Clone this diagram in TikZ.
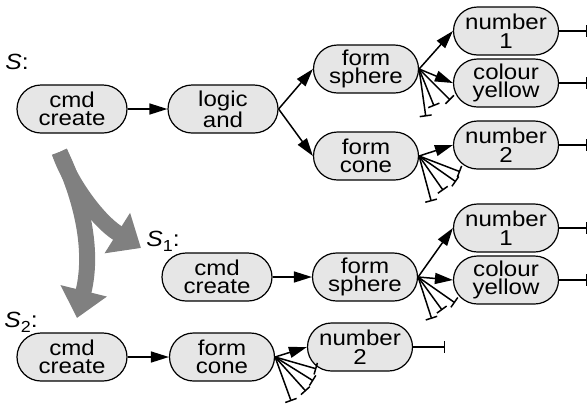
\documentclass[tikz,border=0pt]{standalone}
\usepackage{fontspec}
\setmainfont{Liberation Sans}[FakeStretch=1.12]
\usetikzlibrary{arrows.meta}
\definecolor{boxfill}{HTML}{E6E6E6}
\definecolor{bigarrow}{HTML}{808080}
\begin{document}
\begin{tikzpicture}[x=1pt,y=-1pt,
  box/.style={draw=black, line width=1.2pt, fill=boxfill, rounded corners=24pt,
    minimum height=48pt, minimum width=105pt, inner sep=0pt, align=center,
    font=\fontsize{21.5}{18.5}\selectfont},
  wide/.style={minimum width=110pt},
  link/.style={line width=1.5pt, -{Triangle[length=18pt,width=11pt]}},
  stub/.style={line width=1.5pt, -{Bar[width=12pt,line width=1.5pt]}},
  lbl/.style={font=\fontsize{22}{22}\selectfont, inner sep=0pt},
  flow/.style={draw=bigarrow, line width=16pt, -{Triangle[length=28pt,width=46pt]}}
]
\useasboundingbox (0,0) rectangle (588,408);

% labels
\node[lbl] (lS)  at (17,62)  {\textit{S}:};
\node[lbl] (lS1) at (163,241) {\textit{S}\raisebox{-5pt}{\fontsize{16}{16}\selectfont 1}:};
\node[lbl] (lS2) at (21,322) {\textit{S}\raisebox{-5pt}{\fontsize{16}{16}\selectfont 2}:};

% S
\node[box,wide] (c1)  at (72,109)  {cmd\\create};
\node[box,wide] (l1)  at (223,109) {logic\\and};
\node[box] (fs1) at (366,69)  {form\\sphere};
\node[box] (fc1) at (366,156) {form\\cone};
\node[box] (n1)  at (506,31)  {number\\1};
\node[box] (cy1) at (506,83)  {colour\\yellow};
\node[box] (n2)  at (506,145) {number\\2};

% S1
\node[box,wide] (c2)  at (217,277) {cmd\\create};
\node[box] (fs2) at (365,277) {form\\sphere};
\node[box] (n3)  at (506,228) {number\\1};
\node[box] (cy2) at (506,280) {colour\\yellow};

% S2
\node[box,wide] (c3)  at (72,357)  {cmd\\create};
\node[box] (fc2) at (222,357) {form\\cone};
\node[box] (n4)  at (360,347) {number\\2};

% arrows S
\draw[link] (c1.east) -- (l1.west);
\draw[link] (l1.east) -- (fs1.west);
\draw[link] (l1.east) -- (fc1.west);
\draw[link] (fs1.east) -- (n1.west);
\draw[link] (fs1.east) -- (cy1.west);
\draw[link] (fc1.east) -- (n2.west);
% arrows S1
\draw[link] (c2.east) -- (fs2.west);
\draw[link] (fs2.east) -- (n3.west);
\draw[link] (fs2.east) -- (cy2.west);
% arrows S2
\draw[link] (c3.east) -- (fc2.west);
\draw[link] (fc2.east) -- (n4.west);

% right stubs
\draw[stub] (n1.east)  -- ++(28,0) coordinate (n1e);
\draw[stub] (cy1.east) -- ++(28,0) coordinate (cy1e);
\draw[stub] (n2.east)  -- ++(28,0) coordinate (n2e);
\draw[stub] (n3.east)  -- ++(28,0) coordinate (n3e);
\draw[stub] (cy2.east) -- ++(28,0) coordinate (cy2e);
\draw[stub] (n4.east)  -- ++(32,0) coordinate (n4e);

% fan stubs
\draw[stub] (fs1.east) -- ++(82:48) coordinate (fs1a);
\draw[stub] (fs1.east) -- ++(68:40) coordinate (fs1b);
\draw[stub] (fs1.east) -- ++(45:44) coordinate (fs1c);

\draw[stub] (fc1.east) -- ++(21:44) coordinate (fc1a);
\draw[stub] (fc1.east) -- ++(35:45) coordinate (fc1b);
\draw[stub] (fc1.east) -- ++(55:42) coordinate (fc1c);
\draw[stub] (fc1.east) -- ++(75:47) coordinate (fc1d);

\draw[stub] (fs2.east) -- ++(72:44) coordinate (fs2a);
\draw[stub] (fs2.east) -- ++(54:41) coordinate (fs2b);
\draw[stub] (fs2.east) -- ++(35:45) coordinate (fs2c);

\draw[stub] (fc2.east) -- ++(16:43) coordinate (fc2a);
\draw[stub] (fc2.east) -- ++(32:45) coordinate (fc2b);
\draw[stub] (fc2.east) -- ++(48:46) coordinate (fc2c);
\draw[stub] (fc2.east) -- ++(70:47) coordinate (fc2d);

% big gray flow arrows
\coordinate (fstart) at (59.5,152);
\coordinate (ftip1) at (141,248);
\coordinate (ftip2) at (77,318);
\draw[flow] (fstart) .. controls (68,178) and (95,219) .. (ftip1);
\draw[flow] (fstart) .. controls (78,190) and (95,245) .. (ftip2);
\end{tikzpicture}
\end{document}
